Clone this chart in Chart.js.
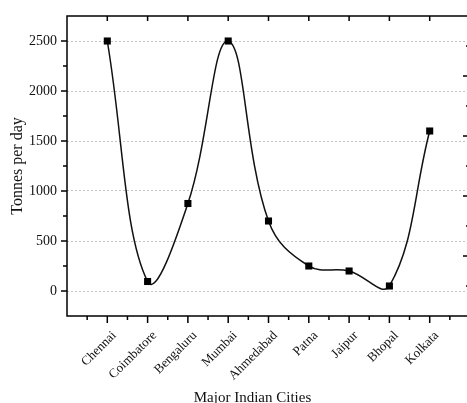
<!DOCTYPE html>
<html>
<head>
<meta charset="utf-8">
<script src="https://cdn.jsdelivr.net/npm/chart.js@4/dist/chart.umd.min.js"></script>
<style>
  html, body { margin: 0; padding: 0; background: #fff; overflow: hidden; }
  canvas { display: block; }
</style>
</head>
<body>
<canvas id="chart" width="475" height="403"></canvas>
<script>
// Municipal solid waste generated in major Indian cities
const cities = ['Chennai', 'Coimbatore', 'Bengaluru', 'Mumbai', 'Ahmedabad', 'Patna', 'Jaipur', 'Bhopal', 'Kolkata'];
const tonnesPerDay = [2500, 95, 875, 2500, 700, 250, 200, 50, 1600];
const yMajorTicks = [0, 500, 1000, 1500, 2000, 2500];
const yMinorTicks = [250, 750, 1250, 1750, 2250];
const rightMajorTicks = [2, 4, 6, 8];
const rightMinorTicks = [1, 3, 5, 7, 9];

// one empty slot on each side of the city categories
const xLabels = ['', ...cities, ''];
const series = [null, ...tonnesPerDay, null];

const SERIF = '"Liberation Serif", "Times New Roman", serif';

// Box frame with Origin-style major/minor ticks and the bottom axis title
const frameTicks = {
  id: 'frameTicks',
  afterDraw(chart) {
    const { ctx, chartArea: a, scales } = chart;
    const { x, y, y2 } = scales;
    ctx.save();
    ctx.strokeStyle = '#000';
    ctx.lineWidth = 1.5;
    ctx.beginPath();
    ctx.rect(a.left, a.top, a.right - a.left, a.bottom - a.top);

    // left axis: outward ticks
    yMajorTicks.forEach(v => { const p = y.getPixelForValue(v); ctx.moveTo(a.left, p); ctx.lineTo(a.left - 6, p); });
    yMinorTicks.forEach(v => { const p = y.getPixelForValue(v); ctx.moveTo(a.left, p); ctx.lineTo(a.left - 4, p); });

    // right axis: inward ticks
    rightMajorTicks.forEach(v => { const p = y2.getPixelForValue(v); ctx.moveTo(a.right, p); ctx.lineTo(a.right - 7, p); });
    rightMinorTicks.forEach(v => { const p = y2.getPixelForValue(v); ctx.moveTo(a.right, p); ctx.lineTo(a.right - 4, p); });

    // bottom axis: outward major and minor ticks; top axis: inward major ticks
    cities.forEach((c, i) => {
      const p = x.getPixelForValue(i + 1);
      ctx.moveTo(p, a.bottom); ctx.lineTo(p, a.bottom + 7);
      ctx.moveTo(p, a.top); ctx.lineTo(p, a.top + 5);
    });
    for (let i = 0; i <= cities.length; i++) {
      const p = x.getPixelForValue(i + 0.5);
      ctx.moveTo(p, a.bottom); ctx.lineTo(p, a.bottom + 4);
    }
    ctx.stroke();

    // bottom axis title
    ctx.fillStyle = '#111';
    ctx.font = '15px ' + SERIF;
    ctx.textAlign = 'center';
    ctx.textBaseline = 'middle';
    ctx.fillText('Major Indian Cities', (a.left + a.right) / 2 - 16, 398);
    ctx.restore();
  }
};

new Chart(document.getElementById('chart'), {
  type: 'line',
  data: {
    labels: xLabels,
    datasets: [{
      data: series,
      borderColor: '#111',
      borderWidth: 1.5,
      tension: 0.4,
      spanGaps: true,
      pointStyle: 'rect',
      pointRadius: 5,
      pointHoverRadius: 5,
      pointBackgroundColor: '#000',
      pointBorderColor: '#000',
      pointBorderWidth: 0
    }]
  },
  options: {
    responsive: false,
    devicePixelRatio: 1,
    animation: false,
    events: [],
    layout: { padding: { top: 16, right: 3, left: 0, bottom: 0 } },
    plugins: { legend: { display: false }, tooltip: { enabled: false } },
    scales: {
      x: {
        type: 'category',
        offset: false,
        grid: { display: false, drawTicks: false },
        border: { display: false },
        ticks: {
          autoSkip: false,
          minRotation: 45,
          maxRotation: 45,
          padding: 12,
          labelOffset: 7,
          color: '#111',
          font: { family: SERIF, size: 13 }
        },
        afterFit(s) { s.height = 87; s.paddingLeft = 0; s.paddingRight = 0; }
      },
      y: {
        min: -250,
        max: 2750,
        afterBuildTicks(s) { s.ticks = yMajorTicks.map(v => ({ value: v })); },
        grid: { color: '#c4c4c4', lineWidth: 1, drawTicks: false },
        border: { display: false, dash: [2, 2] },
        ticks: {
          padding: 10,
          color: '#111',
          font: { family: SERIF, size: 14 },
          callback: v => String(v)
        },
        title: {
          display: true,
          text: 'Tonnes per day',
          color: '#111',
          font: { family: SERIF, size: 16 },
          padding: { top: 8, bottom: 0 }
        },
        afterFit(s) { s.width = 67; s.paddingTop = 0; s.paddingBottom = 0; }
      },
      y2: {
        display: false,
        position: 'right',
        min: 0,
        max: 10
      }
    }
  },
  plugins: [frameTicks]
});
</script>
</body>
</html>
